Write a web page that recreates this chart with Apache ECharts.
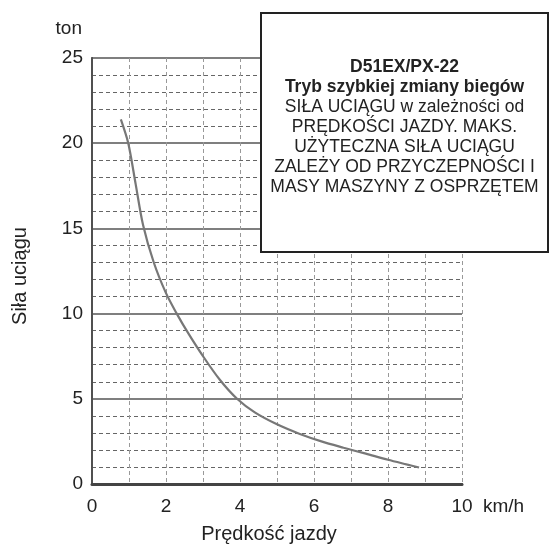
<!DOCTYPE html>
<html>
<head>
<meta charset="utf-8">
<script src="https://cdn.jsdelivr.net/npm/echarts@6/dist/echarts.min.js"></script>
<style>html,body{margin:0;padding:0;background:#fff}#c{width:550px;height:549px}</style>
</head>
<body>
<div id="c"></div>
<script>
// Data
const speedKmh = [0.78, 0.98, 1.18, 1.38, 1.67, 2.0, 2.29, 2.6, 3.0, 3.46, 3.92, 4.4, 5.0, 5.6, 6.2, 6.8, 7.4, 8.0, 8.5, 8.84];
const forceTon = [21.4, 20.0, 17.6, 15.2, 13.0, 11.2, 10.0, 8.85, 7.5, 6.1, 5.0, 4.2, 3.5, 2.95, 2.5, 2.13, 1.78, 1.42, 1.15, 0.97];
const xTicks = [0, 2, 4, 6, 8, 10];
const yTicks = [0, 5, 10, 15, 20, 25];
const boxTitle = ['D51EX/PX-22', 'Tryb szybkiej zmiany biegów'];
const boxBody = ['SIŁA UCIĄGU w zależności od', 'PRĘDKOŚCI JAZDY. MAKS.', 'UŻYTECZNA SIŁA UCIĄGU', 'ZALEŻY OD PRZYCZEPNOŚCI I', 'MASY MASZYNY Z OSPRZĘTEM'];

const FONT = '"Liberation Sans", Arial, Helvetica, sans-serif';
const TXT = '#222';
const curve = speedKmh.map((v, i) => [v, forceTon[i]]);

const chart = echarts.init(document.getElementById('c'), null, {renderer: 'canvas'});
const boxText = boxTitle.map(t => '{b|' + t + '}').concat(boxBody.map(t => '{n|' + t + '}')).join('\n');

chart.setOption({
  animation: false,
  backgroundColor: '#fff',
  grid: {left: 92, right: 88, top: 58, bottom: 62, containLabel: false},
  xAxis: [{
    type: 'value', min: xTicks[0], max: xTicks[xTicks.length - 1], interval: 2,
    position: 'bottom',
    name: 'Prędkość jazdy', nameLocation: 'middle', nameGap: 40,
    nameTextStyle: {fontFamily: FONT, fontSize: 20, color: TXT, padding: [0, 16, 0, 0]},
    axisLine: {show: true, lineStyle: {color: '#444', width: 2}},
    axisTick: {show: false},
    axisLabel: {fontFamily: FONT, fontSize: 19, color: TXT, margin: 13},
    splitLine: {show: true, lineStyle: {color: '#999', width: 1, type: [4, 3]}},
    minorTick: {show: false, splitNumber: 2},
    minorSplitLine: {show: true, lineStyle: {color: '#999', width: 1, type: [4, 3]}}
  }, {
    type: 'value', min: 0, max: 10, position: 'bottom',
    name: 'km/h', nameLocation: 'end', nameGap: 21,
    nameTextStyle: {fontFamily: FONT, fontSize: 19, color: TXT, verticalAlign: 'top', padding: [13, 0, 0, 0]},
    axisLine: {show: false}, axisTick: {show: false}, axisLabel: {show: false}, splitLine: {show: false}
  }, {
    type: 'value', min: 0, max: 10, position: 'top',
    axisLine: {show: true, lineStyle: {color: '#444', width: 3}},
    axisTick: {show: false}, axisLabel: {show: false}, splitLine: {show: false}
  }],
  yAxis: [{
    type: 'value', min: yTicks[0], max: yTicks[yTicks.length - 1], interval: 5,
    position: 'left',
    name: 'ton', nameLocation: 'end', nameGap: 20,
    nameTextStyle: {fontFamily: FONT, fontSize: 19, color: TXT, align: 'right', padding: [0, 10, 0, 0]},
    axisLine: {show: true, lineStyle: {color: '#444', width: 2}},
    axisTick: {show: false},
    axisLabel: {fontFamily: FONT, fontSize: 19, color: TXT, margin: 9},
    splitLine: {show: true, lineStyle: {color: '#555', width: 1.5, type: 'solid'}},
    minorTick: {show: false, splitNumber: 5},
    minorSplitLine: {show: true, lineStyle: {color: '#666', width: 1, type: [4, 3]}}
  }, {
    type: 'value', min: 0, max: 25, position: 'left',
    name: 'Siła uciągu', nameLocation: 'middle', nameGap: 62,
    nameTextStyle: {fontFamily: FONT, fontSize: 20, color: TXT, padding: [0, 10, 0, 0]},
    axisLine: {show: false}, axisTick: {show: false}, axisLabel: {show: false}, splitLine: {show: false}
  }, {
    type: 'value', min: 0, max: 25, position: 'right',
    axisLine: {show: true, lineStyle: {color: '#555', width: 1.5}},
    axisTick: {show: false}, axisLabel: {show: false}, splitLine: {show: false}
  }],
  series: [{
    type: 'line', xAxisIndex: 0, yAxisIndex: 0,
    data: curve, smooth: 0.3, showSymbol: false, symbol: 'none',
    lineStyle: {color: '#777', width: 2.2}, z: 5
  }],
  graphic: [{
    type: 'rect', z: 100, shape: {x: 261, y: 13, width: 287, height: 239},
    style: {fill: '#ffffff', stroke: '#222', lineWidth: 2}
  }, {
    type: 'text', z: 101, x: 404.5, y: 57,
    style: {
      text: boxText, align: 'center', verticalAlign: 'top',
      fontFamily: FONT, fill: TXT,
      rich: {
        b: {fontFamily: FONT, fontSize: 17.5, fontWeight: 'bold', lineHeight: 20, fill: TXT, align: 'center'},
        n: {fontFamily: FONT, fontSize: 17.5, lineHeight: 20, fill: TXT, align: 'center'}
      }
    }
  }]
});
</script>
</body>
</html>
